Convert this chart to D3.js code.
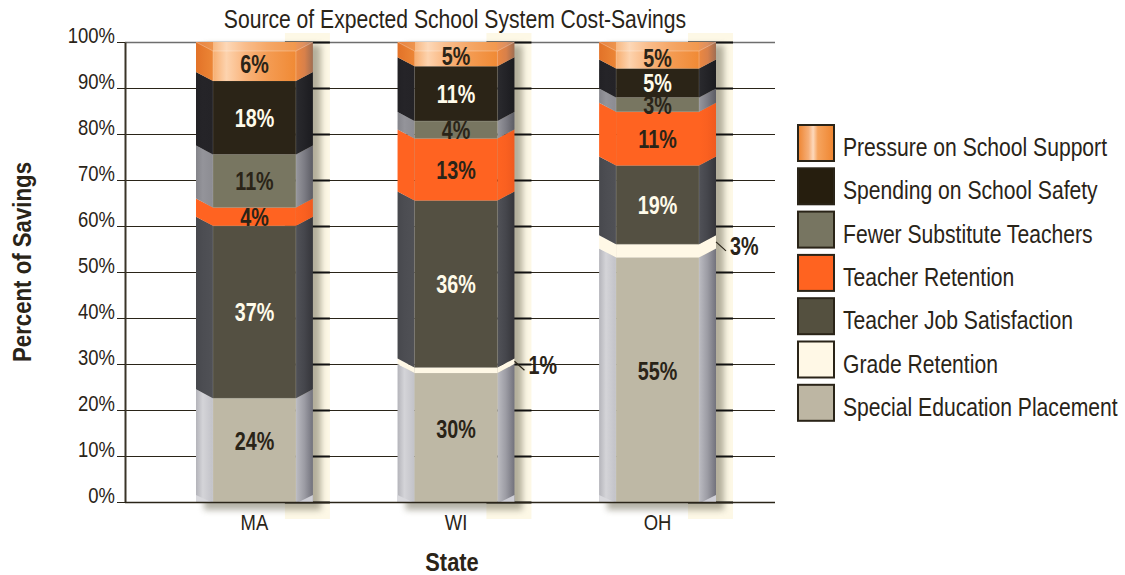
<!DOCTYPE html>
<html><head><meta charset="utf-8">
<script src="https://cdn.jsdelivr.net/npm/d3@7"></script>
<style>body{margin:0;background:#fff}</style>
</head><body><svg id="chart" width="1125" height="575"></svg>
<script>
// ---------- data ----------
const chartTitle = "Source of Expected School System Cost-Savings";
const states = ["MA", "WI", "OH"];
const seriesNames = ["Special Education Placement", "Grade Retention", "Teacher Job Satisfaction",
  "Teacher Retention", "Fewer Substitute Teachers", "Spending on School Safety", "Pressure on School Support"];
// segment sizes (percent of savings), as drawn in the picture
const specialEd   = [24.5, 30.0, 55.1];
const gradeRet    = [0.0, 1.2, 2.9];
const jobSat      = [37.5, 36.3, 17.1];
const teacherRet  = [4.0, 13.5, 11.7];
const substitutes = [11.5, 3.8, 3.1];
const safety      = [16.0, 11.9, 6.3];
const pressure    = [6.5, 3.3, 3.8];
// printed labels
const specialEdLabels   = ["24%", "30%", "55%"];
const gradeRetLabels    = ["", "1%", "3%"];
const jobSatLabels      = ["37%", "36%", "19%"];
const teacherRetLabels  = ["4%", "13%", "11%"];
const substitutesLabels = ["11%", "4%", "3%"];
const safetyLabels      = ["18%", "11%", "5%"];
const pressureLabels    = ["6%", "5%", "5%"];
const yTicks = [0, 10, 20, 30, 40, 50, 60, 70, 80, 90, 100];

// ---------- styles ----------
const FONT = "'Liberation Sans', Arial, sans-serif";
const TXT = "#2a2418";
const faceColors  = ["#beb8a5", "#fff8e6", "#545042", "#ff6321", "#787661", "#2b2417", null];
const sideLeft    = [["#b4b4ba", "#d4d4d8", "#c2c2c8"], ["#fff8e6", "#fff8e6", "#fff8e6"], ["#47484d", "#4c4d52", "#505156"],
                     ["#ff6321", "#ff6321", "#ff6321"], ["#84848a", "#94949a", "#8c8c92"], ["#222125", "#252428", "#242327"], null];
const sideRight   = [["#bcbcc2", "#9c9ca4", "#72727c"], ["#fff8e6", "#fff8e6", "#fff8e6"], ["#515258", "#45464c", "#35353a"],
                     ["#ff6321", "#fa6020", "#f05a1e"], ["#97979d", "#7c7c84", "#5c5c64"], ["#2a2a2e", "#232327", "#1b1b1f"], null];
const labelColors = [TXT, TXT, "#fffbea", TXT, TXT, "#fffbea", TXT];
const legendColors = ["#bdb6a3", "#fff8e6", "#54503f", "#ff6320", "#777561", "#261e0e", "url(#legendPressure)"];

const svg = d3.select("#chart");
const defs = svg.append("defs");

// condensed text helper: Liberation Sans squeezed horizontally
function addText(parent, x, y, str, o = {}) {
  const g = parent.append("g").attr("transform", `translate(${x},${y})${o.rotate ? ` rotate(${o.rotate})` : ""} scale(${o.sx || 0.84},1)`);
  return g.append("text").attr("x", 0).attr("y", 0)
    .attr("text-anchor", o.anchor || "start")
    .attr("font-family", FONT).attr("font-size", o.size || 22)
    .attr("font-weight", o.bold ? "bold" : "normal")
    .attr("fill", o.fill || TXT).text(str);
}

function grad(id, stops) {
  const g = defs.append("linearGradient").attr("id", id).attr("x1", 0).attr("x2", 1).attr("y1", 0).attr("y2", 0);
  stops.forEach(([o, c]) => g.append("stop").attr("offset", o).attr("stop-color", c));
}
seriesNames.forEach((s, k) => {
  if (!sideLeft[k]) return;
  grad("sl" + k, [[0, sideLeft[k][0]], [0.4, sideLeft[k][1]], [1, sideLeft[k][2]]]);
  grad("sr" + k, [[0, sideRight[k][0]], [0.5, sideRight[k][1]], [1, sideRight[k][2]]]);
});
grad("pressureFill", [[0, "#e27228"], [0.145, "#ec8636"], [0.146, "#f7ae70"], [0.26, "#fdd3ae"], [0.42, "#f9b47c"],
  [0.62, "#f49b52"], [0.853, "#f08a35"], [0.854, "#ec8840"], [0.93, "#d8804a"], [1, "#a06e52"]]);
grad("legendPressure", [[0, "#ee8430"], [0.3, "#f6b07a"], [0.42, "#fdd9bc"], [0.55, "#f6a45e"], [1, "#ef8530"]]);
const blur = defs.append("filter").attr("id", "shadowBlur").attr("x", "-20%").attr("y", "-20%").attr("width", "140%").attr("height", "140%");
blur.append("feGaussianBlur").attr("stdDeviation", 3);

// ---------- scales ----------
const y = d3.scaleLinear().domain([0, 100]).range([502, 42]);
const x = d3.scaleBand().domain(states).range([196, 716]).paddingInner(0.42).paddingOuter(0);
const plotLeft = 125, plotRight = 775;

const table = states.map((s, i) => ({
  state: s,
  [seriesNames[0]]: specialEd[i], [seriesNames[1]]: gradeRet[i], [seriesNames[2]]: jobSat[i],
  [seriesNames[3]]: teacherRet[i], [seriesNames[4]]: substitutes[i], [seriesNames[5]]: safety[i],
  [seriesNames[6]]: pressure[i]
}));
const labelTable = [specialEdLabels, gradeRetLabels, jobSatLabels, teacherRetLabels, substitutesLabels, safetyLabels, pressureLabels];
const stacked = d3.stack().keys(seriesNames)(table);

// ---------- title ----------
addText(svg, 455, 28, chartTitle, { anchor: "middle", size: 25, sx: 0.845 });

// ---------- shadows behind bars ----------
const shadowG = svg.append("g");
states.forEach(s => {
  const L = x(s), R = L + x.bandwidth();
  shadowG.append("rect").attr("x", R - 28).attr("y", y(100) - 9).attr("width", 45).attr("height", y(0) - y(100) + 26)
    .attr("fill", "#fdf8e6");
  shadowG.append("rect").attr("x", L + 8).attr("y", y(100) + 3).attr("width", x.bandwidth()).attr("height", y(0) - y(100) + 5)
    .attr("fill", "#77735f").attr("opacity", 0.55).attr("filter", "url(#shadowBlur)");
});

// ---------- gridlines ----------
const grid = svg.append("g");
yTicks.filter(t => t > 0).forEach(t => {
  grid.append("line").attr("x1", plotLeft).attr("x2", plotRight).attr("y1", y(t) + 0.5).attr("y2", y(t) + 0.5)
    .attr("stroke", t === 100 ? "#6e6e6e" : TXT).attr("stroke-width", t === 100 ? 1.6 : 1);
});
states.forEach(s => {
  const R = x(s) + x.bandwidth();
  yTicks.forEach(t => {
    grid.append("line").attr("x1", R - 28).attr("x2", R + 17).attr("y1", y(t) + 0.5).attr("y2", y(t) + 0.5)
      .attr("stroke", "#111").attr("stroke-width", 2);
  });
});

// ---------- bars ----------
const SW = 17, BEV = 9;
const barsG = svg.append("g");
const labelsG = svg.append("g");
const pts = a => a.map(p => p.join(",")).join(" ");

stacked.forEach((layer, k) => {
  layer.forEach((d, i) => {
    const v0 = d[0], v1 = d[1];
    if (v1 - v0 <= 0) return;
    const s = states[i];
    const L = x(s), R = L + x.bandwidth(), cx = (L + R) / 2;
    const yt = y(v1), yb = y(v0);
    const isBottom = v0 === 0, isTop = v1 >= 99.99;
    const ytIn = yt + BEV, ybIn = isBottom ? yb : yb + BEV;
    const g = barsG.append("g");
    if (k === 6) {
      g.append("polygon").attr("points", pts([[L, yt], [R, yt], [R, yb], [R - SW, ybIn], [L + SW, ybIn], [L, yb]]))
        .attr("fill", "url(#pressureFill)");
      g.append("polygon").attr("points", pts([[L, yt], [R, yt], [R - SW, ytIn], [L + SW, ytIn]]))
        .attr("fill", "#fff").attr("opacity", 0.12);
      g.append("polyline").attr("points", pts([[L, yt], [L + SW, ytIn], [R - SW, ytIn], [R, yt]]))
        .attr("fill", "none").attr("stroke", "#fff").attr("stroke-opacity", 0.35).attr("stroke-width", 0.8);
      g.append("line").attr("x1", L + SW).attr("x2", L + SW).attr("y1", ytIn).attr("y2", ybIn)
        .attr("stroke", "#fff").attr("stroke-opacity", 0.3).attr("stroke-width", 0.8);
      g.append("line").attr("x1", R - SW).attr("x2", R - SW).attr("y1", ytIn).attr("y2", ybIn)
        .attr("stroke", "#fff").attr("stroke-opacity", 0.3).attr("stroke-width", 0.8);
    } else {
      g.append("polygon").attr("points", pts([[L, yt], [L + SW, ytIn], [L + SW, ybIn], [L, yb]]))
        .attr("fill", `url(#sl${k})`);
      g.append("polygon").attr("points", pts([[R, yt], [R - SW, ytIn], [R - SW, ybIn], [R, yb]]))
        .attr("fill", `url(#sr${k})`);
      g.append("polygon").attr("points", pts([[L + SW, ytIn], [R - SW, ytIn], [R - SW, ybIn], [L + SW, ybIn]]))
        .attr("fill", faceColors[k]).attr("stroke", k === 1 || k === 3 ? "none" : "#ffffff")
        .attr("stroke-opacity", 0.16).attr("stroke-width", 0.8);
      if (isBottom) {
        g.append("polygon").attr("points", pts([[L, yb - 7], [L + 15, yb], [L, yb]])).attr("fill", "#d9d9dd");
        g.append("polygon").attr("points", pts([[R, yb - 7], [R - 14, yb], [R, yb]])).attr("fill", "#cfcfd6");
      }
    }
    // labels
    const txt = labelTable[k][i];
    if (!txt) return;
    if (k === 1) {
      const mid = (yt + yb) / 2;
      labelsG.append("line").attr("x1", R).attr("y1", mid).attr("x2", R + 10).attr("y2", mid + 9)
        .attr("stroke", TXT).attr("stroke-width", 1.2);
      addText(labelsG, R + 14, mid + 13, txt, { size: 26, bold: true, sx: 0.76 });
      return;
    }
    let cy;
    if (isTop) cy = (yt + 4 + ybIn) / 2;
    else if (isBottom) cy = (ytIn + yb - 18) / 2;
    else cy = (ytIn + ybIn) / 2;
    addText(labelsG, cx, cy + 9.3, txt, { anchor: "middle", size: 26, bold: true, sx: 0.76, fill: labelColors[k] });
  });
});

// ---------- axes ----------
const yAxis = svg.append("g").attr("transform", `translate(${plotLeft},0)`)
  .call(d3.axisLeft(y).tickValues(yTicks).tickFormat("").tickSize(8).tickSizeOuter(0));
yAxis.select(".domain").attr("stroke", "#3a3428").attr("stroke-width", 2);
yAxis.selectAll(".tick line").attr("stroke", TXT).attr("stroke-width", 1);
yTicks.forEach(t => addText(svg, plotLeft - 10, y(t) + 1, t + "%", { anchor: "end", size: 22, sx: 0.84 }));
svg.append("line").attr("x1", plotLeft).attr("x2", plotRight).attr("y1", y(0) + 0.5).attr("y2", y(0) + 0.5)
  .attr("stroke", TXT).attr("stroke-width", 1.3);

const xAxis = svg.append("g").attr("transform", `translate(0,${y(0)})`)
  .call(d3.axisBottom(x).tickSize(0).tickFormat(""));
xAxis.select(".domain").remove();
states.forEach(s => addText(svg, x(s) + x.bandwidth() / 2, 530, s, { anchor: "middle", size: 22, sx: 0.84 }));

addText(svg, 452, 571, "State", { anchor: "middle", size: 26, bold: true, sx: 0.84 });
addText(svg, 31, 262, "Percent of Savings", { anchor: "middle", size: 26, bold: true, sx: 0.855, rotate: -90 });

// ---------- legend ----------
const legend = svg.append("g");
const legendOrder = [6, 5, 4, 3, 2, 1, 0];
legendOrder.forEach((k, j) => {
  const cyL = 143 + j * 43.3;
  legend.append("rect").attr("x", 798).attr("y", cyL - 18).attr("width", 36).attr("height", 36)
    .attr("fill", legendColors[k]).attr("stroke", TXT).attr("stroke-width", 2);
  addText(legend, 843, cyL + 13, seriesNames[k], { size: 25, sx: 0.845 });
});
</script></body></html>
